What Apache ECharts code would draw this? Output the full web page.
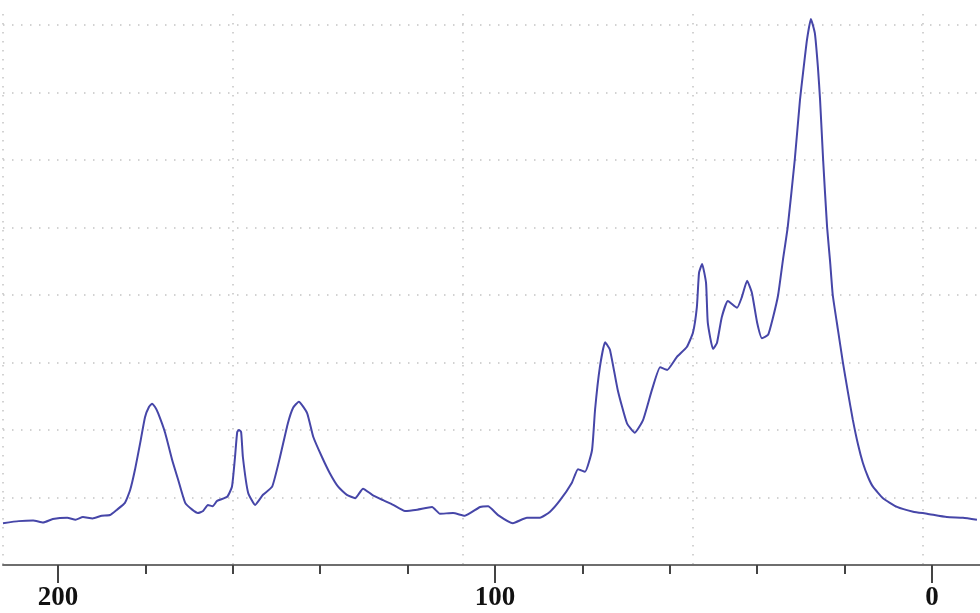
<!DOCTYPE html>
<html>
<head>
<meta charset="utf-8">
<title>spectrum</title>
<script src="https://cdn.jsdelivr.net/npm/echarts@6/dist/echarts.min.js"></script>
<style>
  html, body { margin: 0; padding: 0; background: #fff; }
  #chart { width: 980px; height: 613px; }
</style>
</head>
<body>
<div id="chart"></div>
<script>
// chemical shift (ppm), left to right
const shifts = [
  212.6, 209.0, 205.7, 203.4, 201.2, 197.9, 196.0, 194.3, 192.1, 190.0, 188.1, 186.5, 184.7, 183.5,
  182.4, 181.2, 180.1, 179.2, 178.5, 177.8, 177.1, 175.5, 173.9, 172.5, 170.9, 169.3, 168.0,
  166.8, 165.7, 164.6, 163.6, 161.3, 160.2, 159.5, 159.0, 158.6, 158.1, 157.7, 156.5,
  154.9, 153.1, 151.0, 149.2, 147.4, 146.2, 144.9, 143.0, 141.6, 139.6, 137.8, 135.9,
  133.9, 132.0, 130.2, 128.1, 125.6, 123.3, 120.6, 117.8, 114.4, 112.6, 109.6, 106.9,
  103.4, 101.6, 99.3, 95.9, 92.7, 89.7, 87.4, 85.1, 82.4, 81.0, 79.4, 77.8, 77.1, 76.0,
  74.8, 73.7, 71.9, 69.8, 68.0, 66.1, 64.1, 62.2, 60.6, 58.4, 56.1, 54.7, 53.8, 53.3,
  52.6, 51.7, 51.3, 50.1, 49.2, 48.1, 46.7, 44.6, 43.5, 42.3, 41.2, 40.0,
  38.9, 37.5, 36.4, 35.2, 34.1, 33.0, 31.4, 30.2, 29.5, 28.6, 27.7, 26.8, 26.1, 25.6,
  24.9, 24.0, 23.3, 22.7, 21.5, 20.4, 19.2, 18.1, 16.9, 15.8, 14.6, 13.5, 11.2, 8.0,
  4.3, 1.1, -3.4, -7.1, -10.3
];
// intensity in grid units (one dotted row = 1)
const intensity = [
  0.62, 0.65, 0.66, 0.63, 0.68, 0.70, 0.67, 0.71, 0.69, 0.73, 0.74, 0.82, 0.92, 1.11,
  1.41, 1.81, 2.19, 2.34, 2.39, 2.34, 2.25, 1.96, 1.56, 1.26, 0.92, 0.82, 0.77,
  0.80, 0.89, 0.87, 0.95, 1.01, 1.16, 1.60, 1.97, 2.00, 1.97, 1.60, 1.07,
  0.89, 1.04, 1.16, 1.60, 2.10, 2.33, 2.42, 2.25, 1.90, 1.60, 1.36, 1.16,
  1.04, 0.99, 1.13, 1.04, 0.96, 0.89, 0.80, 0.82, 0.86, 0.76, 0.77, 0.73,
  0.86, 0.87, 0.74, 0.62, 0.70, 0.70, 0.79, 0.96, 1.22, 1.42, 1.38, 1.70, 2.30, 2.93,
  3.30, 3.19, 2.59, 2.10, 1.96, 2.15, 2.59, 2.93, 2.89, 3.08, 3.23, 3.44, 3.82, 4.33,
  4.46, 4.18, 3.59, 3.20, 3.29, 3.67, 3.91, 3.81, 3.97, 4.21, 4.03, 3.59,
  3.36, 3.41, 3.66, 4.00, 4.52, 5.01, 6.00, 6.89, 7.29, 7.78, 8.09, 7.88, 7.38, 6.89,
  6.00, 5.01, 4.49, 4.00, 3.48, 3.01, 2.55, 2.15, 1.78, 1.51, 1.30, 1.16, 0.99, 0.86,
  0.79, 0.76, 0.71, 0.70, 0.67
];
const minorTicks = [200, 180, 160, 140, 120, 100, 80, 60, 40, 20, 0];
const majorTicks = [200, 100, 0];

const chart = echarts.init(document.getElementById('chart'));

const dotted = { color: '#c4c4c4', width: 1.5, type: [1.5, 7.5] };

const option = {
  animation: false,
  backgroundColor: '#fff',
  grid: { left: 3, right: 0, top: 14, bottom: 48 },
  xAxis: [
    {
      // main ppm axis
      type: 'value',
      inverse: true,
      min: -11,
      max: 212.6,
      axisLine: { show: true, lineStyle: { color: '#6e6e6e', width: 2 } },
      axisTick: {
        show: true, length: 9, customValues: minorTicks,
        lineStyle: { color: '#444', width: 2 }
      },
      axisLabel: {
        customValues: majorTicks,
        margin: 20,
        fontFamily: 'Liberation Serif',
        fontWeight: 'bold',
        fontSize: 27,
        color: '#111'
      },
      splitLine: { show: false }
    },
    {
      // longer ticks at the labelled values
      type: 'value',
      inverse: true,
      min: -11,
      max: 212.6,
      position: 'bottom',
      axisLine: { show: false },
      axisTick: {
        show: true, length: 18, customValues: majorTicks,
        lineStyle: { color: '#444', width: 2 }
      },
      axisLabel: { show: false },
      splitLine: { show: false }
    },
    {
      // vertical dotted grid, spaced independently of the ticks
      type: 'value',
      min: 0,
      max: 977,
      interval: 230,
      position: 'top',
      axisLine: { show: false },
      axisTick: { show: false },
      axisLabel: { show: false },
      splitLine: { show: true, showMaxLine: false, lineStyle: dotted }
    }
  ],
  yAxis: {
    type: 'value',
    min: 0,
    max: 8.163,
    interval: 1,
    axisLine: { show: false },
    axisTick: { show: false },
    axisLabel: { show: false },
    splitLine: { show: true, showMinLine: false, showMaxLine: false, lineStyle: dotted }
  },
  series: [{
    type: 'line',
    xAxisIndex: 0,
    data: shifts.map((s, i) => [s, intensity[i]]),
    showSymbol: false,
    smooth: 0.15,
    clip: false,
    lineStyle: { color: '#4646a8', width: 2 }
  }]
};

chart.setOption(option);
</script>
</body>
</html>
